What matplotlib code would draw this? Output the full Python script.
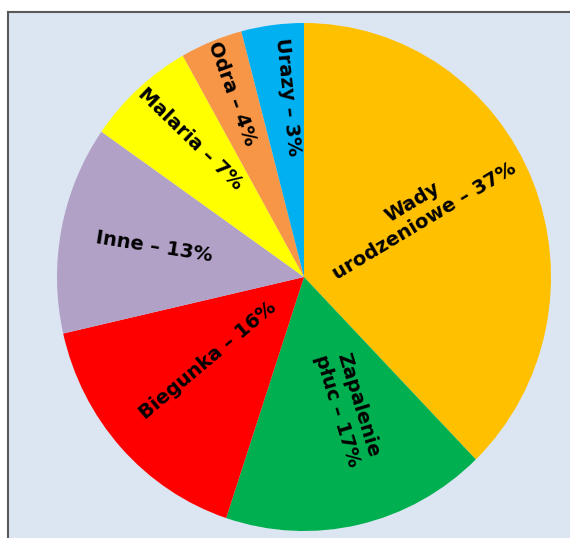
import numpy as np
import matplotlib.pyplot as plt
from matplotlib.patches import Rectangle
from matplotlib.lines import Line2D

labels = ['Wady\nurodzeniowe – 37%', 'Zapalenie\npłuc – 17%', 'Biegunka – 16%',
          'Inne – 13%', 'Malaria – 7%', 'Odra – 4%', 'Urazy – 3%']
# wedge sizes as drawn in the picture (the "Urazy" slice is drawn as wide as "Odra")
values = [37, 17, 16, 13, 7, 4, 4]
colors = ['#FFC000', '#00B050', '#FF0000', '#B2A1C7', '#FFFF00', '#F79646', '#00B0F0']

# label layout: distance from centre, angle tweak, text rotation
label_r = [0.53, 0.545, 0.51, 0.62, 0.71, 0.78, 0.71]
label_dang = [7, 6, -2, 0, -2, 0, -2]
label_rot = [31, -73, 40, -9, -44, -70, -84]

fig = plt.figure(figsize=(5.7, 5.38), dpi=100)
fig.patch.set_facecolor('white')

# background panel with border on top and left
x0, y1 = 8 / 570, 1 - 12 / 538
fig.add_artist(Rectangle((x0, 0), 1 - x0, y1, transform=fig.transFigure,
                         facecolor='#DCE6F2', edgecolor='none', zorder=0))
fig.add_artist(Line2D([x0, 1], [y1, y1], transform=fig.transFigure, color='#595959', lw=1.5))
fig.add_artist(Line2D([x0, x0], [0, y1], transform=fig.transFigure, color='#595959', lw=1.5))

ax = fig.add_axes([57 / 570, 7 / 538, 494 / 570, 508 / 538])
wedges, _ = ax.pie(values, colors=colors, startangle=90, counterclock=False)
ax.set_aspect('auto')
ax.set_xlim(-1, 1)
ax.set_ylim(-1, 1)
ax.axis('off')

for w, lab, r, da, rot in zip(wedges, labels, label_r, label_dang, label_rot):
    mid = np.deg2rad((w.theta1 + w.theta2) / 2 + da)
    ax.text(r * np.cos(mid), r * np.sin(mid), lab, rotation=rot, rotation_mode='anchor',
            ha='center', va='center', fontsize=14, fontweight='bold', color='black',
            linespacing=1.2, multialignment='center')

plt.savefig('out.png', dpi=100)
